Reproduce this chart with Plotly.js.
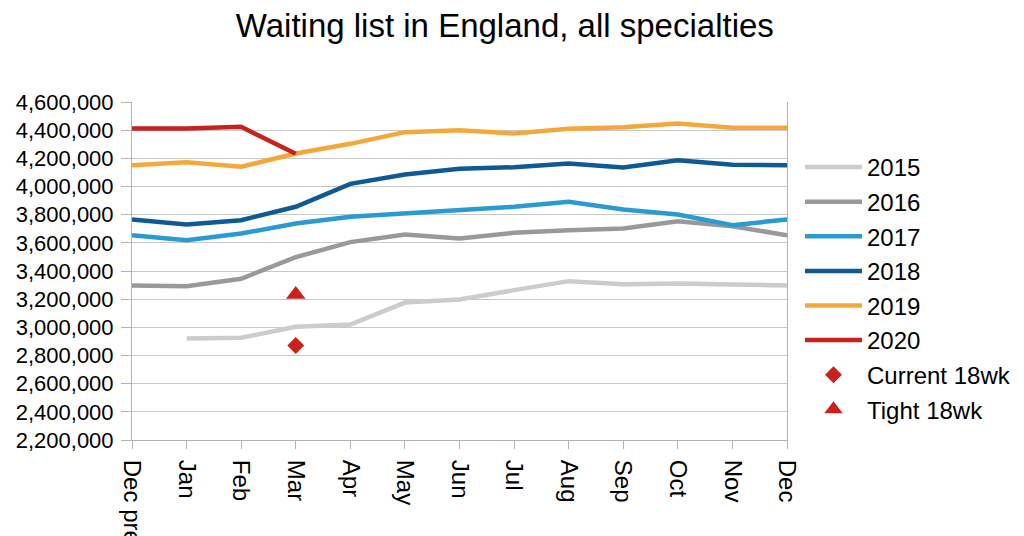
<!DOCTYPE html>
<html>
<head>
<meta charset="utf-8">
<script src="https://cdn.plot.ly/plotly-3.0.1.min.js"></script>
<style>html,body{margin:0;padding:0;background:#fff;}#chart{width:1024px;height:536px;}</style>
</head>
<body>
<div id="chart"></div>
<script>
const months = ["Dec prev","Jan","Feb","Mar","Apr","May","Jun","Jul","Aug","Sep","Oct","Nov","Dec"];
const y2015 = [null,2921000,2926000,3004000,3020000,3176000,3198000,3264000,3328000,3306000,3311000,3305000,3297000];
const y2016 = [3297000,3292000,3345000,3498000,3605000,3659000,3631000,3671000,3690000,3702000,3754000,3718000,3654000];
const y2017 = [3654000,3619000,3666000,3737000,3785000,3808000,3837000,3856000,3891000,3837000,3801000,3725000,3766000];
const y2018 = [3766000,3730000,3761000,3856000,4019000,4085000,4126000,4137000,4163000,4135000,4187000,4154000,4151000];
const y2019 = [4151000,4173000,4140000,4234000,4303000,4386000,4400000,4376000,4410000,4421000,4447000,4417000,4417000];
const y2020 = [4412000,4412000,4424000,4232000];
const currentMonth = ["Mar"];
const current18wk = [2871000];
const tight18wk = [3233000];

const seriesNames = ["2015","2016","2017","2018","2019","2020"];
const seriesData = [y2015,y2016,y2017,y2018,y2019,y2020];
const colors = ["#cccccc","#999999","#2a9ad4","#0f5a94","#f5a83a","#c9211e"];

const traces = seriesData.map((d,i)=>({
  type:"scatter", mode:"lines", name:seriesNames[i],
  x: months.slice(0,d.length), y:d,
  line:{color:colors[i], width:4.5},
  legendgroup:"g"+i, connectgaps:false
}));
traces.push({type:"scatter",mode:"markers",name:"Current 18wk",x:currentMonth,y:current18wk,
  marker:{symbol:"diamond",size:13,color:"#c9211e"},legendgroup:"g6"});
traces.push({type:"scatter",mode:"markers",name:"Tight 18wk",x:currentMonth,y:tight18wk,
  marker:{symbol:"triangle-up",size:17,color:"#c9211e"},legendgroup:"g7"});

const layout = {
  width:1024, height:536,
  margin:{l:132, r:237, t:102, b:96},
  paper_bgcolor:"#fff", plot_bgcolor:"#fff",
  font:{family:"Liberation Sans, Arial, sans-serif", size:22, color:"#000"},
  title:{text:"Waiting list in England, all specialties", x:0.493, xanchor:"center", y:0.953, yanchor:"middle",
    font:{size:33, color:"#000"}},
  xaxis:{type:"category", categoryorder:"array", categoryarray:months, range:[0,12],
    tickangle:90, showgrid:false, showline:true, linecolor:"#b3b3b3", linewidth:1,
    ticks:"outside", ticklen:8, tickcolor:"#b3b3b3", mirror:false, zeroline:false,
    ticklabelstandoff:6, automargin:false, tickfont:{size:24}},
  yaxis:{range:[2200000,4600000], dtick:200000, tick0:2200000, tickformat:",d",
    showgrid:true, gridcolor:"#c8c8c8", gridwidth:1, showline:true, linecolor:"#b3b3b3", linewidth:1,
    mirror:true, ticks:"outside", ticklen:10, tickcolor:"#b3b3b3", zeroline:false,
    ticklabelstandoff:3, automargin:false, tickfont:{size:22}},
  showlegend:true,
  legend:{x:800/1024, xref:"container", xanchor:"left", y:1-145/536, yref:"container", yanchor:"top",
    traceorder:"grouped", tracegroupgap:0.4, itemwidth:57, maxheight:380, font:{size:24}, bgcolor:"rgba(0,0,0,0)"}
};
Plotly.newPlot("chart", traces, layout, {displayModeBar:false, staticPlot:true});
</script>
</body>
</html>
